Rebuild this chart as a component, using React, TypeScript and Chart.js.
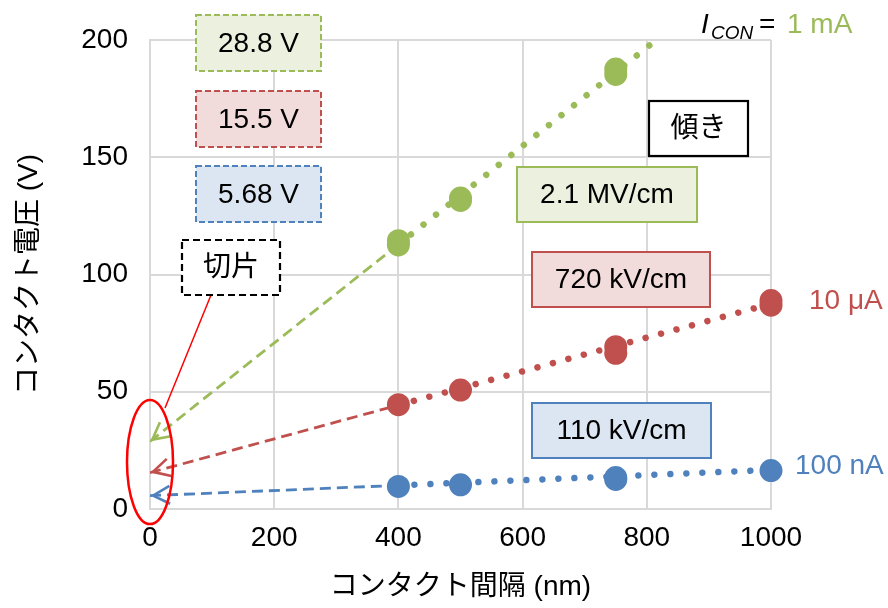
import { useEffect, useRef } from "react";
import { Chart, registerables } from "chart.js";

Chart.register(...registerables);

const FONT = '"Liberation Sans", Arial, "Noto Sans CJK JP", sans-serif';

// Measured contact voltage (V) vs. contact spacing (nm), one pair of arrays per current
const GREEN_X = [400, 400, 500, 500, 750, 750];
const GREEN_V = [112.6, 114.4, 131.6, 132.6, 185.3, 187.6];
const RED_X = [400, 500, 750, 750, 1000, 1000];
const RED_V = [44.5, 50.7, 66.4, 69.2, 86.9, 88.9];
const BLUE_X = [400, 500, 750, 750, 1000];
const BLUE_V = [9.6, 10.3, 12.6, 13.4, 16.4];

// Linear fit per current: intercept (V) and slope (kV/cm); order = 1 mA, 10 μA, 100 nA
const CURRENTS = ["1 mA", "10 μA", "100 nA"];
const INTERCEPT_V = [28.8, 15.5, 5.68];
const SLOPE_KV_PER_CM = [2100, 720, 110];
const FIT_START_NM = 400;
const FIT_END_NM = [812, 1000, 1000];

const X_TICKS = [0, 200, 400, 600, 800, 1000];
const Y_TICKS = [0, 50, 100, 150, 200];

const COLORS = ["#9bbb59", "#c0504d", "#4f81bd"];
const FILLS = ["#ebf1de", "#f2dcdb", "#dce6f2"];

// kV/cm -> V/nm
const slopeVPerNm = (k: number) => k * 1e-4;
const fitAt = (i: number, x: number) => INTERCEPT_V[i] + slopeVPerNm(SLOPE_KV_PER_CM[i]) * x;
const slopeLabel = (k: number) => (k >= 1000 ? `${k / 1000} MV/cm` : `${k} kV/cm`);

// Callout layout (canvas pixels)
const INTERCEPT_BOXES = [
  { x: 196, y: 15, w: 125, h: 56 },
  { x: 196, y: 91, w: 125, h: 56 },
  { x: 196, y: 166, w: 125, h: 56 },
];
const SLOPE_BOXES = [
  { x: 517, y: 167, w: 180, h: 55 },
  { x: 532, y: 252, w: 178, h: 55 },
  { x: 532, y: 403, w: 179, h: 55 },
];
const SERIES_LABEL_POS = [null, { x: 809, y: 301 }, { x: 795, y: 466 }];

const PLOT = { left: 150, right: 771, top: 40, bottom: 509 };

const annotations = {
  id: "annotations",
  afterDraw(chart: any) {
    const ctx: CanvasRenderingContext2D = chart.ctx;
    const xs = chart.scales.x;
    const ys = chart.scales.y;
    ctx.save();

    // arrowheads at the intercept end of each extrapolation
    for (let i = 0; i < 3; i++) {
      const x0 = xs.getPixelForValue(0);
      const y0 = ys.getPixelForValue(INTERCEPT_V[i]);
      const x1 = xs.getPixelForValue(FIT_START_NM);
      const y1 = ys.getPixelForValue(fitAt(i, FIT_START_NM));
      const len = Math.hypot(x1 - x0, y1 - y0);
      const ux = (x1 - x0) / len;
      const uy = (y1 - y0) / len;
      const tx = x0 + ux * 3;
      const ty = y0 + uy * 3;
      const a = (28 * Math.PI) / 180;
      const L = 19;
      ctx.strokeStyle = COLORS[i];
      ctx.lineWidth = 2.6;
      ctx.setLineDash([]);
      ctx.lineCap = "butt";
      ctx.lineJoin = "miter";
      ctx.beginPath();
      ctx.moveTo(tx + L * (ux * Math.cos(a) - uy * Math.sin(a)), ty + L * (ux * Math.sin(a) + uy * Math.cos(a)));
      ctx.lineTo(tx, ty);
      ctx.moveTo(tx + L * (ux * Math.cos(-a) - uy * Math.sin(-a)), ty + L * (ux * Math.sin(-a) + uy * Math.cos(-a)));
      ctx.lineTo(tx, ty);
      ctx.stroke();
    }

    // ellipse around the intercepts and its leader to the "切片" callout
    const cx = xs.getPixelForValue(0);
    const cy = ys.getPixelForValue(20);
    ctx.strokeStyle = "#ff0000";
    ctx.lineWidth = 2.5;
    ctx.beginPath();
    ctx.ellipse(cx, cy, 23, 62, 0, 0, Math.PI * 2);
    ctx.stroke();
    ctx.lineWidth = 1.5;
    ctx.beginPath();
    ctx.moveTo(211, 295);
    ctx.lineTo(165, 408);
    ctx.stroke();

    const box = (
      b: { x: number; y: number; w: number; h: number },
      text: string,
      fill: string,
      stroke: string,
      dash: number[],
      lw: number
    ) => {
      ctx.setLineDash([]);
      ctx.fillStyle = fill;
      ctx.fillRect(b.x, b.y, b.w, b.h);
      ctx.setLineDash(dash);
      ctx.strokeStyle = stroke;
      ctx.lineWidth = lw;
      ctx.strokeRect(b.x, b.y, b.w, b.h);
      ctx.setLineDash([]);
      ctx.fillStyle = "#000";
      ctx.font = `28px ${FONT}`;
      ctx.textAlign = "center";
      ctx.textBaseline = "middle";
      ctx.fillText(text, b.x + b.w / 2, b.y + b.h / 2 + 1);
    };

    for (let i = 0; i < 3; i++) {
      box(INTERCEPT_BOXES[i], `${INTERCEPT_V[i]} V`, FILLS[i], COLORS[i], [6, 3], 2);
      box(SLOPE_BOXES[i], slopeLabel(SLOPE_KV_PER_CM[i]), FILLS[i], COLORS[i], [], 2);
    }
    box({ x: 182, y: 240, w: 98, h: 55 }, "切片", "#ffffff", "#000000", [7, 4], 2.2);
    box({ x: 649, y: 101, w: 99, h: 55 }, "傾き", "#ffffff", "#000000", [], 2.2);

    // current labels
    ctx.textAlign = "left";
    ctx.textBaseline = "alphabetic";
    ctx.fillStyle = "#000";
    ctx.font = `italic 28px ${FONT}`;
    ctx.fillText("I", 701, 33);
    ctx.font = `italic 19px ${FONT}`;
    ctx.fillText("CON", 711, 39);
    ctx.font = `28px ${FONT}`;
    ctx.fillText("=", 759, 33);
    ctx.fillStyle = COLORS[0];
    ctx.fillText(CURRENTS[0], 787, 33);
    ctx.textBaseline = "middle";
    for (let i = 1; i < 3; i++) {
      const p = SERIES_LABEL_POS[i]!;
      ctx.fillStyle = COLORS[i];
      ctx.fillText(CURRENTS[i], p.x, p.y);
    }
    ctx.restore();
  },
};

export default function App() {
  const ref = useRef<HTMLCanvasElement | null>(null);

  useEffect(() => {
    if (!ref.current) return;
    const measured = [
      GREEN_X.map((x, k) => ({ x, y: GREEN_V[k] })),
      RED_X.map((x, k) => ({ x, y: RED_V[k] })),
      BLUE_X.map((x, k) => ({ x, y: BLUE_V[k] })),
    ];

    const datasets: any[] = [];
    for (let i = 0; i < 3; i++) {
      datasets.push({
        label: `points ${CURRENTS[i]}`,
        data: measured[i],
        showLine: false,
        pointRadius: 11.5,
        pointHoverRadius: 11.5,
        pointBackgroundColor: COLORS[i],
        pointBorderWidth: 0,
        clip: false,
        order: 0,
      });
      datasets.push({
        label: `fit ${CURRENTS[i]}`,
        data: [
          { x: FIT_START_NM, y: fitAt(i, FIT_START_NM) },
          { x: FIT_END_NM[i], y: fitAt(i, FIT_END_NM[i]) },
        ],
        showLine: true,
        pointRadius: 0,
        borderColor: COLORS[i],
        borderWidth: 6.5,
        borderDash: [0.01, 16],
        borderCapStyle: "round",
        clip: false,
        order: 1,
      });
      datasets.push({
        label: `extrapolation ${CURRENTS[i]}`,
        data: [
          { x: 0, y: INTERCEPT_V[i] },
          { x: FIT_START_NM, y: fitAt(i, FIT_START_NM) },
        ],
        showLine: true,
        pointRadius: 0,
        borderColor: COLORS[i],
        borderWidth: 2.8,
        borderDash: [11, 6],
        borderCapStyle: "butt",
        order: 2,
      });
    }

    const chart = new Chart(ref.current, {
      type: "scatter",
      data: { datasets },
      options: {
        responsive: false,
        animation: false,
        devicePixelRatio: 1,
        layout: {
          padding: { left: 0, top: PLOT.top, right: 888 - PLOT.right, bottom: 0 },
        },
        plugins: { legend: { display: false }, tooltip: { enabled: false } },
        scales: {
          x: {
            type: "linear",
            min: X_TICKS[0],
            max: X_TICKS[X_TICKS.length - 1],
            afterBuildTicks: (s: any) => {
              s.ticks = X_TICKS.map((v) => ({ value: v }));
            },
            afterFit: (s: any) => {
              s.height = 608 - PLOT.bottom;
            },
            grid: { color: "#d9d9d9", lineWidth: 2, drawTicks: false },
            border: { color: "#d9d9d9", width: 2 },
            ticks: {
              color: "#000",
              font: { family: FONT, size: 28 },
              padding: 12,
              callback: (v: any) => String(v),
            },
            title: {
              display: true,
              text: "コンタクト間隔 (nm)",
              color: "#000",
              font: { family: FONT, size: 28 },
              padding: { top: 0, bottom: 4 },
            },
          },
          y: {
            type: "linear",
            min: Y_TICKS[0],
            max: Y_TICKS[Y_TICKS.length - 1],
            afterBuildTicks: (s: any) => {
              s.ticks = Y_TICKS.map((v) => ({ value: v }));
            },
            afterFit: (s: any) => {
              s.width = PLOT.left;
            },
            grid: { color: "#d9d9d9", lineWidth: 2, drawTicks: false },
            border: { color: "#d9d9d9", width: 2 },
            ticks: {
              color: "#000",
              font: { family: FONT, size: 28 },
              padding: 22,
              callback: (v: any) => String(v),
            },
            title: {
              display: true,
              text: "コンタクト電圧 (V)",
              color: "#000",
              font: { family: FONT, size: 28 },
              padding: { top: 12, bottom: 0 },
            },
          },
        },
      } as any,
      plugins: [annotations],
    });
    return () => chart.destroy();
  }, []);

  return (
    <div style={{ position: "fixed", left: 0, top: 0, width: 888, height: 608, background: "#fff" }}>
      <canvas ref={ref} width={888} height={608} style={{ display: "block" }} />
    </div>
  );
}
